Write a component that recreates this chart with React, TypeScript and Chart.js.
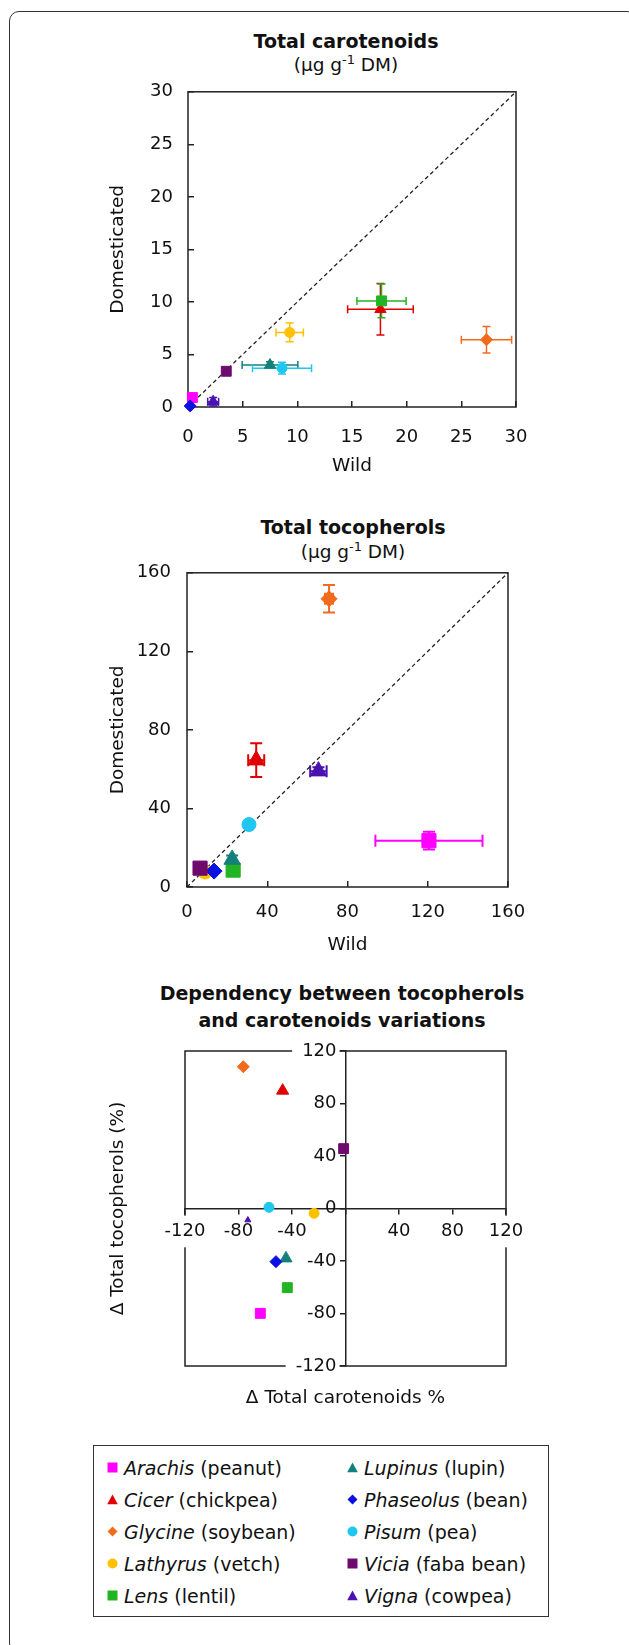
import { useEffect, useRef } from 'react'
import { Chart, registerables } from 'chart.js'

Chart.register(...registerables)

const FONT = '"DejaVu Sans", Verdana, sans-serif'
Chart.defaults.font.family = FONT
Chart.defaults.color = '#111'

const species = ['Arachis', 'Cicer', 'Glycine', 'Lathyrus', 'Lens', 'Lupinus', 'Phaseolus', 'Pisum', 'Vicia', 'Vigna']
const commonNames = ['peanut', 'chickpea', 'soybean', 'vetch', 'lentil', 'lupin', 'bean', 'pea', 'faba bean', 'cowpea']

// A - total carotenoids (ug g-1 DM), wild vs domesticated
const carWild = [0.4, 17.6, 27.3, 9.3, 17.7, 7.5, 0.2, 8.6, 3.5, 2.3]
const carDom = [0.9, 9.3, 6.4, 7.1, 10.1, 4.0, 0.1, 3.7, 3.4, 0.5]
const carWildErr = [0.1, 3.0, 2.3, 1.25, 2.25, 2.55, 0.1, 2.7, 0.2, 0.5]
const carDomErr = [0.1, 2.45, 1.25, 0.9, 1.6, 0.3, 0.1, 0.55, 0.3, 0.4]

// B - total tocopherols (ug g-1 DM)
const tocWild = [120.6, 34.5, 70.8, 9.0, 23.0, 22.5, 13.5, 30.9, 6.5, 65.5]
const tocDom = [23.6, 64.6, 146.8, 7.6, 8.6, 14.0, 8.1, 31.8, 9.6, 59.0]
const tocWildErr = [26.7, 4.0, 2.0, 0.5, 1.0, 1.0, 1.0, 1.5, 0.5, 4.1]
const tocDomErr = [4.5, 8.6, 7.0, 0.5, 1.0, 2.0, 0.5, 1.5, 0.5, 2.0]

// C - variation (%) of carotenoids vs tocopherols
const carChange = [-63.7, -47, -76.4, -23.5, -43.5, -44.5, -52, -57.2, -1.4, -73]
const tocChange = [-79.9, 89.8, 108, -3.7, -60.3, -38, -40.5, 0.9, 45.6, -8.8]

const ticksA = [0, 5, 10, 15, 20, 25, 30]
const ticksB = [0, 40, 80, 120, 160]
const ticksC = [-120, -80, -40, 0, 40, 80, 120]

const colors = ['#ff00ff', '#e00000', '#f26a1b', '#ffc000', '#22b422', '#13807a', '#0a10e0', '#1ec6f0', '#6e0a6e', '#4b12b2']
const shapes = ['rect', 'triangle', 'rectRot', 'circle', 'rect', 'triangle', 'rectRot', 'circle', 'rect', 'triangle']

const sizeA: Record<string, number> = { rect: 7, triangle: 6.5, rectRot: 6, circle: 5 }
const sizeB: Record<string, number> = { rect: 10, triangle: 9.5, rectRot: 8, circle: 7 }
const sizeC: Record<string, number> = { rect: 7, triangle: 7, rectRot: 6, circle: 5 }

const tickFont = { size: 18 }
const axisTitleFont = { size: 18.5 }

// box around the plot area, drawn before the scales
const plotFrame = {
  id: 'plotFrame',
  beforeDraw(chart: any) {
    const { ctx, chartArea } = chart
    if (!chartArea) return
    const { left, top, right, bottom } = chartArea
    ctx.save()
    ctx.strokeStyle = '#222'
    ctx.lineWidth = 1.5
    ctx.strokeRect(left, top, right - left, bottom - top)
    ctx.restore()
  },
}

const errorBars = {
  id: 'errorBars',
  beforeDatasetsDraw(chart: any, _args: any, opts: any) {
    const { ctx, scales } = chart
    const cap = opts.cap ?? 4
    chart.data.datasets.forEach((ds: any) => {
      if (!ds.xErr && !ds.yErr) return
      const xs = scales.x
      const ys = scales.y
      const p = ds.data[0]
      const px = xs.getPixelForValue(p.x)
      const py = ys.getPixelForValue(p.y)
      ctx.save()
      ctx.strokeStyle = ds.borderColor
      ctx.lineWidth = opts.width ?? 1.5
      ctx.beginPath()
      if (ds.xErr) {
        const x0 = xs.getPixelForValue(p.x - ds.xErr)
        const x1 = xs.getPixelForValue(p.x + ds.xErr)
        ctx.moveTo(x0, py)
        ctx.lineTo(x1, py)
        ctx.moveTo(x0, py - cap)
        ctx.lineTo(x0, py + cap)
        ctx.moveTo(x1, py - cap)
        ctx.lineTo(x1, py + cap)
      }
      if (ds.yErr) {
        const y0 = ys.getPixelForValue(p.y - ds.yErr)
        const y1 = ys.getPixelForValue(p.y + ds.yErr)
        ctx.moveTo(px, y0)
        ctx.lineTo(px, y1)
        ctx.moveTo(px - cap, y0)
        ctx.lineTo(px + cap, y0)
        ctx.moveTo(px - cap, y1)
        ctx.lineTo(px + cap, y1)
      }
      ctx.stroke()
      ctx.restore()
    })
  },
}

function speciesDatasets(
  xs: number[],
  ys: number[],
  xErr: number[] | null,
  yErr: number[] | null,
  sizes: Record<string, number>,
  override: Record<string, number> = {}
) {
  return species.map((name, i) => ({
    label: name,
    data: [{ x: xs[i], y: ys[i] }],
    xErr: xErr ? xErr[i] : 0,
    yErr: yErr ? yErr[i] : 0,
    pointStyle: shapes[i],
    pointRadius: override[name] ?? sizes[shapes[i]],
    backgroundColor: colors[i],
    borderColor: colors[i],
    borderWidth: 1,
    order: species.length - i,
    clip: false,
  }))
}

function identityLine(t: number[]) {
  const lo = t[0]
  const hi = t[t.length - 1]
  return {
    label: '1:1',
    data: [{ x: lo, y: lo }, { x: hi, y: hi }],
    showLine: true,
    borderColor: '#222',
    borderWidth: 1.3,
    borderDash: [4, 3],
    pointRadius: 0,
    order: 99,
  }
}

// axis of panels A and B: ticks inside, box drawn by plotFrame
function boxAxis(t: number[], title: string, tickPad: number, titlePad: any, fit: (s: any) => void) {
  return {
    type: 'linear',
    min: t[0],
    max: t[t.length - 1],
    border: { display: false },
    grid: { drawOnChartArea: false, tickLength: -6, color: '#222', lineWidth: 1.5 },
    ticks: { stepSize: t[1] - t[0], padding: tickPad, font: tickFont, color: '#111' },
    title: { display: true, text: title, font: axisTitleFont, color: '#111', padding: titlePad },
    afterFit: fit,
  }
}

const baseOptions = {
  animation: false,
  responsive: true,
  maintainAspectRatio: false,
  events: [],
}

const configA = () => ({
  type: 'scatter',
  data: {
    datasets: [identityLine(ticksA), ...speciesDatasets(carWild, carDom, carWildErr, carDomErr, sizeA)],
  },
  options: {
    ...baseOptions,
    layout: { padding: { top: 28, left: 30, right: 64, bottom: 0 } },
    plugins: { legend: { display: false }, tooltip: { enabled: false }, errorBars: { cap: 4, width: 1.5 } },
    scales: {
      x: boxAxis(ticksA, 'Wild', 25.2, { top: 0, bottom: 2.9 }, (s) => { s.height = 73 }),
      y: boxAxis(ticksA, 'Domesticated', 21, { top: 16.9, bottom: 0 }, (s) => { s.width = 98 }),
    },
  },
  plugins: [plotFrame, errorBars],
})

const configB = () => ({
  type: 'scatter',
  data: {
    datasets: [identityLine(ticksB), ...speciesDatasets(tocWild, tocDom, tocWildErr, tocDomErr, sizeB)],
  },
  options: {
    ...baseOptions,
    layout: { padding: { top: 30, left: 30, right: 72, bottom: 0 } },
    plugins: { legend: { display: false }, tooltip: { enabled: false }, errorBars: { cap: 6, width: 2 } },
    scales: {
      x: boxAxis(ticksB, 'Wild', 20.2, { top: 0, bottom: 3.9 }, (s) => { s.height = 73 }),
      y: boxAxis(ticksB, 'Domesticated', 22, { top: 16.9, bottom: 0 }, (s) => { s.width = 97 }),
    },
  },
  plugins: [plotFrame, errorBars],
})

// axes crossing at 0 for panel C
function centerAxis(t: number[], tickPad: number, backdropPadding: any, hideZero: boolean) {
  return {
    type: 'linear',
    position: 'center',
    min: t[0],
    max: t[t.length - 1],
    border: { color: '#222', width: 1.5 },
    grid: { drawOnChartArea: false, tickLength: 5, color: '#222', lineWidth: 1.5 },
    ticks: {
      stepSize: t[1] - t[0],
      padding: tickPad,
      font: tickFont,
      color: '#111',
      callback: (v: number) => (hideZero && v === 0 ? '' : String(v)),
      showLabelBackdrop: (c: any) => Math.abs(c.tick.value) === t[t.length - 1],
      backdropColor: '#ffffff',
      backdropPadding,
    },
  }
}

// scales that only carry the axis titles of panel C
function titleAxis(axis: string, position: string, text: string, pad: any, fit: (s: any) => void) {
  return {
    type: 'linear',
    axis,
    position,
    ticks: { display: false },
    grid: { display: false, drawTicks: false },
    border: { display: false },
    title: { display: true, text, font: axisTitleFont, color: '#111', padding: pad },
    afterFit: fit,
  }
}

const configC = () => ({
  type: 'scatter',
  data: {
    datasets: speciesDatasets(carChange, tocChange, null, null, sizeC, { Vigna: 3.5 }).map((d) => ({
      ...d,
      xAxisID: 'x',
      yAxisID: 'y',
    })),
  },
  options: {
    ...baseOptions,
    layout: { padding: { top: 21, left: 30, right: 74, bottom: 0 } },
    plugins: { legend: { display: false }, tooltip: { enabled: false } },
    scales: {
      x: centerAxis(ticksC, 7.2, { top: 5, bottom: 5, left: 3, right: 3 }, true),
      y: centerAxis(ticksC, 4, { top: 2, bottom: 2, left: 10, right: 3 }, false),
      xTitle: titleAxis('x', 'bottom', '\u0394 Total carotenoids %', { top: 0, bottom: 4.9 }, (s) => { s.height = 48 }),
      yTitle: titleAxis('y', 'left', '\u0394 Total tocopherols (%)', { top: 16.9, bottom: 0 }, (s) => { s.width = 95 }),
    },
  },
  plugins: [plotFrame],
})

interface Box {
  left: number
  top: number
  width: number
  height: number
}

function ChartCanvas({ config, box }: { config: () => any; box: Box }) {
  const canvasRef = useRef<HTMLCanvasElement>(null)

  useEffect(() => {
    if (!canvasRef.current) return
    const chart = new Chart(canvasRef.current, config())
    return () => chart.destroy()
  }, [config])

  return (
    <div style={{ position: 'absolute', ...box }}>
      <canvas ref={canvasRef} />
    </div>
  )
}

function Caption({ x, y, size, bold, children }: { x: number; y: number; size: number; bold?: boolean; children: any }) {
  return (
    <div
      style={{
        position: 'absolute',
        left: x,
        top: y,
        transform: 'translate(-50%, -50%)',
        whiteSpace: 'nowrap',
        fontSize: size,
        fontWeight: bold ? 'bold' : 'normal',
        lineHeight: 1,
      }}
    >
      {children}
    </div>
  )
}

const unit = (
  <>
    ({'\u03bc'}g g<sup style={{ fontSize: '0.7em', verticalAlign: '0.5em', lineHeight: 0 }}>-1</sup> DM)
  </>
)

function LegendMarker({ shape, color }: { shape: string; color: string }) {
  return (
    <svg width="11" height="11" viewBox="0 0 11 11" style={{ display: 'block', flex: 'none' }}>
      {shape === 'rect' && <rect x="0.5" y="0.5" width="10" height="10" fill={color} />}
      {shape === 'triangle' && <polygon points="5.5,0.5 10.8,10.3 0.2,10.3" fill={color} />}
      {shape === 'rectRot' && <polygon points="5.5,0.5 10.5,5.5 5.5,10.5 0.5,5.5" fill={color} />}
      {shape === 'circle' && <circle cx="5.5" cy="5.5" r="5" fill={color} />}
    </svg>
  )
}

function Legend() {
  return (
    <div
      style={{
        position: 'absolute',
        left: 93,
        top: 1445,
        width: 456,
        height: 172,
        border: '1.5px solid #333',
        boxSizing: 'border-box',
      }}
    >
      {species.map((name, i) => {
        const col = i < 5 ? 0 : 1
        const row = i % 5
        return (
          <div
            key={name}
            style={{
              position: 'absolute',
              left: col ? 253 : 13,
              top: 5.5 + row * 32,
              height: 32,
              display: 'flex',
              alignItems: 'center',
              fontSize: 19,
              whiteSpace: 'nowrap',
            }}
          >
            <LegendMarker shape={shapes[i]} color={colors[i]} />
            <span style={{ marginLeft: 6 }}>
              <i>{name}</i> ({commonNames[i]})
            </span>
          </div>
        )
      })}
    </div>
  )
}

export default function App() {
  return (
    <div
      style={{
        position: 'absolute',
        left: 0,
        top: 0,
        width: 629,
        height: 1645,
        overflow: 'hidden',
        background: '#fff',
        fontFamily: FONT,
        color: '#111',
      }}
    >
      <div
        style={{
          position: 'absolute',
          left: 9,
          top: 11,
          width: 628,
          height: 1642,
          border: '1.5px solid #333',
          borderRadius: 10,
          boxSizing: 'border-box',
        }}
      />

      <Caption x={346} y={41} size={19} bold>Total carotenoids</Caption>
      <Caption x={346} y={65} size={18.5}>{unit}</Caption>
      <ChartCanvas config={configA} box={{ left: 60, top: 60, width: 520, height: 420 }} />

      <Caption x={353} y={527} size={19} bold>Total tocopherols</Caption>
      <Caption x={353} y={552} size={18.5}>{unit}</Caption>
      <ChartCanvas config={configB} box={{ left: 60, top: 540, width: 520, height: 420 }} />

      <Caption x={342} y={993} size={19} bold>Dependency between tocopherols</Caption>
      <Caption x={342} y={1020} size={19} bold>and carotenoids variations</Caption>
      <ChartCanvas config={configC} box={{ left: 60, top: 1030, width: 520, height: 384 }} />

      <Legend />
    </div>
  )
}
